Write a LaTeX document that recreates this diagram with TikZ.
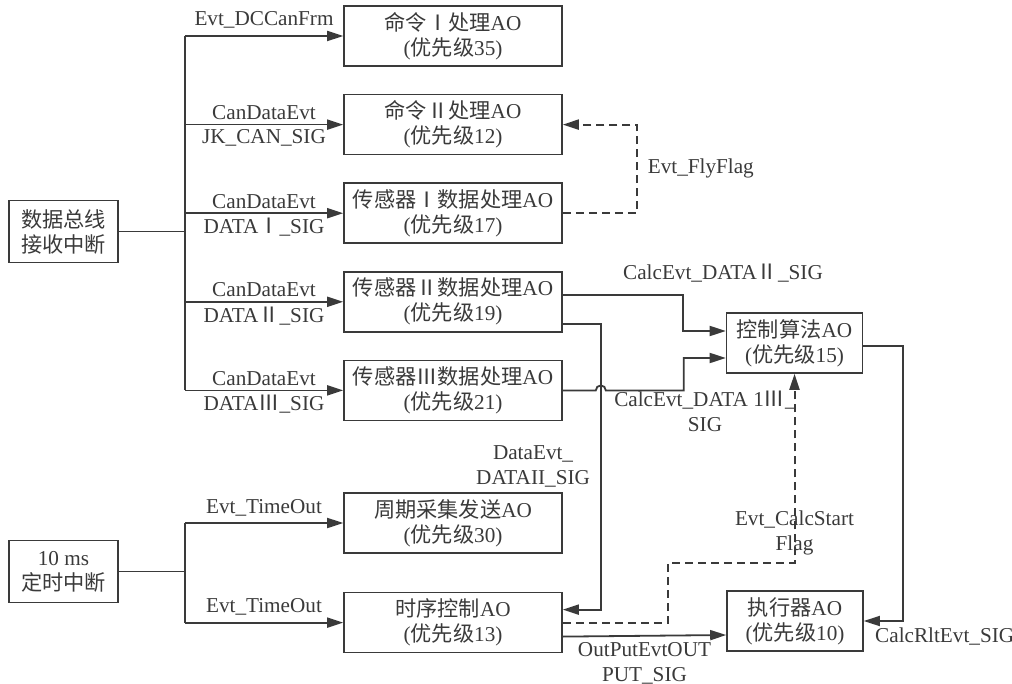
\documentclass[tikz,border=0pt]{standalone}
\usepackage{fontspec}
\setmainfont{Liberation Serif}
\newfontfamily\cjk{Noto Sans CJK SC}
\usetikzlibrary{positioning,calc,arrows.meta}
\definecolor{ink}{HTML}{3A3A3A}
\newcommand{\zh}[1]{{\cjk #1}}

\begin{document}
\begin{tikzpicture}[x=0.5pt,y=0.5pt,node distance=13.5pt,font=\fontsize{10.6}{12.5}\selectfont,
  ao/.style={draw=ink,line width=0.8pt,text=ink,minimum width=109pt,minimum height=30pt,align=center,inner sep=2pt},
  src/.style={ao,minimum width=54.5pt,minimum height=31pt},
  alg/.style={ao,minimum width=68pt},
  lbl/.style={text=ink,align=center,inner sep=2pt},
  wire/.style={draw=ink,line width=0.7pt},
  sig/.style={wire,line width=0.9pt,-{Triangle[length=8pt,width=5pt]}},
  flag/.style={sig,line width=1pt,dash pattern=on 4pt off 2.5pt}]
  \useasboundingbox (0,0) rectangle (1012,-684);
  % interrupt sources
  \node[src] (bus) at (63.5,-231.5) {\zh{数据总线}\\\zh{接收中断}};
  \node[src] (tick) at (63.5,-571.5) {10 ms\\\zh{定时中断}};
  % active objects
  \node[ao] (cmd1) at (453,-36) {\zh{命令Ⅰ处理}AO\\(\zh{优先级}35)};
  \node[ao,below=of cmd1] (cmd2) {\zh{命令Ⅱ处理}AO\\(\zh{优先级}12)};
  \node[ao,below=of cmd2] (sen1) {\zh{传感器Ⅰ数据处理}AO\\(\zh{优先级}17)};
  \node[ao,below=of sen1] (sen2) {\zh{传感器Ⅱ数据处理}AO\\(\zh{优先级}19)};
  \node[ao,below=of sen2] (sen3) {\zh{传感器Ⅲ数据处理}AO\\(\zh{优先级}21)};
  \node[ao] (cycle) at (453,-523) {\zh{周期采集发送}AO\\(\zh{优先级}30)};
  \node[ao,below=19pt of cycle] (seq) {\zh{时序控制}AO\\(\zh{优先级}13)};
  \node[alg] (ctrl) at (794.5,-343) {\zh{控制算法}AO\\(\zh{优先级}15)};
  \node[alg] (exec) at (795,-621) {\zh{执行器}AO\\(\zh{优先级}10)};
  % bus fan-out
  \draw[wire] (bus.east) -- ++(66,0) coordinate (bj);
  \draw[wire] (bj |- cmd1.west) -- (bj |- sen3.west);
  \draw[sig] (bj |- cmd1.west) -- node[lbl,above=1.5pt]{Evt\_DCCanFrm} (cmd1.west);
  \foreach \n/\s in {cmd2/JK\_CAN\_SIG,sen1/DATA\zh{Ⅰ}\_SIG,sen2/DATA\zh{Ⅱ}\_SIG,sen3/DATA\zh{Ⅲ}\_SIG}
    \draw[sig] (bj |- \n.west) -- node[lbl,above]{CanDataEvt} node[lbl,below]{\s} (\n.west);
  % timer fan-out
  \draw[wire] (tick.east) -- ++(66,0) coordinate (tj);
  \draw[wire] (tj |- cycle.west) -- (tj |- seq.west);
  \draw[sig] (tj |- cycle.west) -- node[lbl,above=1pt]{Evt\_TimeOut} (cycle.west);
  \draw[sig] (tj |- seq.west) -- node[lbl,above=1pt]{Evt\_TimeOut} (seq.west);
  % events between active objects
  \draw[flag] (sen1.east) -- ++(74,0) |- node[lbl,pos=0.25,right=3pt]{Evt\_FlyFlag} (cmd2.east);
  \draw[sig] ([yshift=3.5pt]sen2.east) -| ([xshift=-21.5pt,yshift=6pt]ctrl.west) -- ([yshift=6pt]ctrl.west);
  \draw[sig] (sen3.east) -- ++(33,0) arc[start angle=180,end angle=0,radius=2.5pt] -- ++(78,0) |- ([yshift=-7.5pt]ctrl.west);
  \node[lbl] (calc2) at (723,-273) {CalcEvt\_DATA\zh{Ⅱ}\_SIG};
  \node[lbl] (calc3) at (705,-411) {CalcEvt\_DATA 1\zh{Ⅲ}\_\\SIG};
  \draw[sig] ([yshift=-11pt]sen2.east) -- ++(38,0) |- node[lbl,pos=0.25,left=3pt]{DataEvt\_\\DATAII\_SIG} ([yshift=6.5pt]seq.east);
  \draw[flag] (seq.east) -- ++(105,0) |- ([yshift=-94.5pt]ctrl.south) -- node[lbl,pos=0.16]{Evt\_CalcStart\\Flag} (ctrl.south);
  \draw[sig] ([yshift=-1.5pt]ctrl.east) -| ([xshift=19.5pt]exec.east) -- (exec.east);
  \node[lbl,anchor=west] (rlt) at ([xshift=3.5pt,yshift=-8pt]exec.east) {CalcRltEvt\_SIG};
  \draw[sig] ([yshift=-7pt]seq.east) -- node[lbl,below=1pt]{OutPutEvtOUT\\PUT\_SIG} ([yshift=-7pt]exec.west);
\end{tikzpicture}
\end{document}
